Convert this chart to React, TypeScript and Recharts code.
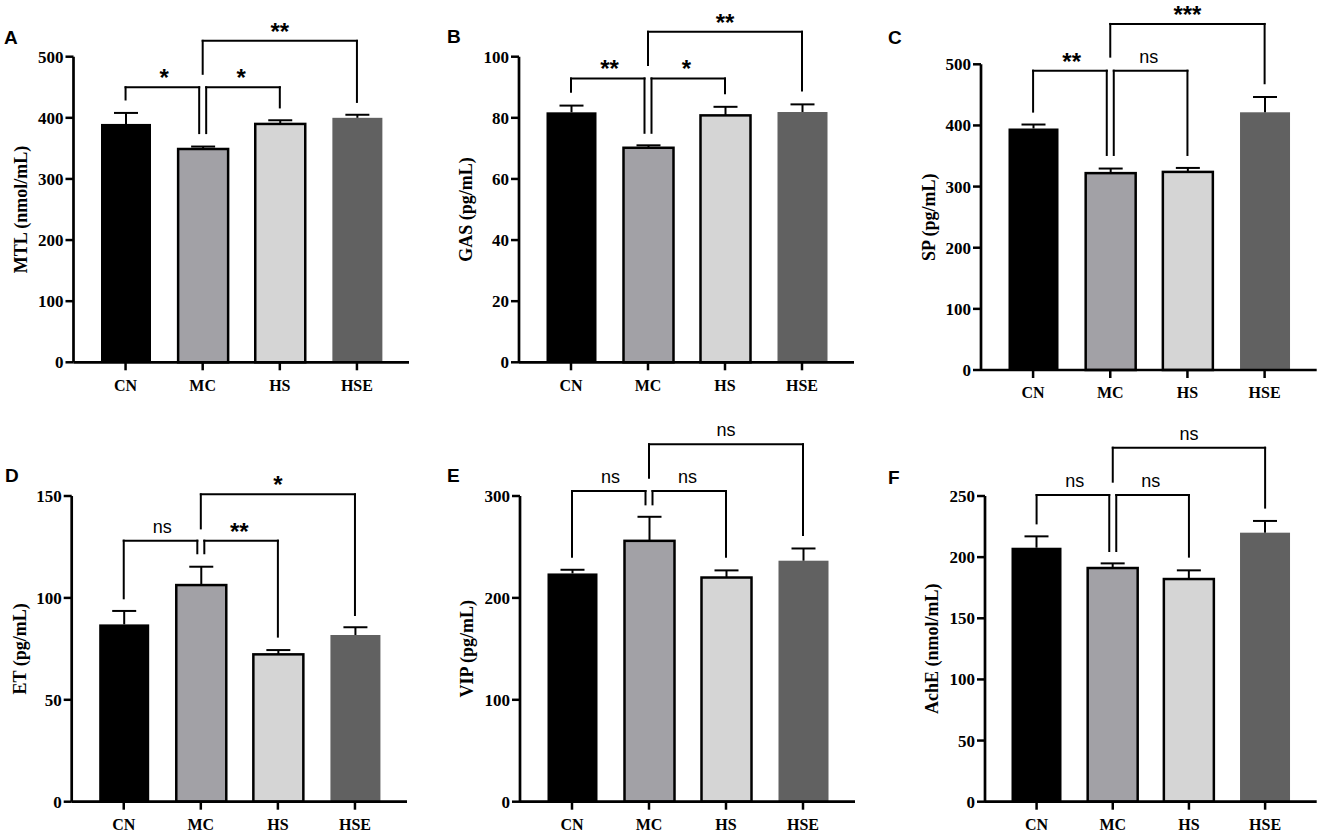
import React from 'react';
import {
  BarChart,
  Bar,
  XAxis,
  YAxis,
  ReferenceLine,
} from 'recharts';

// groups on the x axis (same for every panel)
const GROUPS = ['CN', 'MC', 'HS', 'HSE'];

// means and upper error (SEM)
const MTL_MEAN = [390, 349, 390, 400];
const MTL_SEM = [18, 4, 6, 5];
const GAS_MEAN = [81.8, 70.2, 80.8, 81.9];
const GAS_SEM = [2.2, 0.8, 2.8, 2.5];
const SP_MEAN = [395, 322, 324, 421.5];
const SP_SEM = [6.5, 7.5, 6.5, 25];
const ET_MEAN = [87, 106.3, 72.3, 81.8];
const ET_SEM = [6.6, 9, 2.1, 3.8];
const VIP_MEAN = [224, 256, 220, 236.5];
const VIP_SEM = [3.6, 23.6, 7, 12];
const ACHE_MEAN = [207.7, 191.1, 182.1, 220];
const ACHE_SEM = [9.3, 3.8, 7.1, 9.6];

// y axis ticks
const TICKS_A = [0, 100, 200, 300, 400, 500];
const TICKS_B = [0, 20, 40, 60, 80, 100];
const TICKS_C = [0, 100, 200, 300, 400, 500];
const TICKS_D = [0, 50, 100, 150];
const TICKS_E = [0, 100, 200, 300];
const TICKS_F = [0, 50, 100, 150, 200, 250];

// significance brackets: legs and bar in data units
type Bracket = { from: string; to: string; legFrom: number; top: number; legTo: number; label: string };
const BRACKETS_A: Bracket[] = [
  { from: 'CN', to: 'MC', legFrom: 430, top: 450, legTo: 375, label: '*' },
  { from: 'MC', to: 'HS', legFrom: 375, top: 450, legTo: 417, label: '*' },
  { from: 'MC', to: 'HSE', legFrom: 472, top: 526, legTo: 426, label: '**' },
];
const BRACKETS_B: Bracket[] = [
  { from: 'CN', to: 'MC', legFrom: 88.5, top: 92.9, legTo: 75.1, label: '**' },
  { from: 'MC', to: 'HS', legFrom: 75.1, top: 92.9, legTo: 88, label: '*' },
  { from: 'MC', to: 'HSE', legFrom: 97.3, top: 108.2, legTo: 88.9, label: '**' },
];
const BRACKETS_C: Bracket[] = [
  { from: 'CN', to: 'MC', legFrom: 422.6, top: 489.6, legTo: 351.7, label: '**' },
  { from: 'MC', to: 'HS', legFrom: 351.7, top: 489.6, legTo: 351.7, label: 'ns' },
  { from: 'MC', to: 'HSE', legFrom: 512.5, top: 566, legTo: 469, label: '***' },
];
const BRACKETS_D: Bracket[] = [
  { from: 'CN', to: 'MC', legFrom: 99.8, top: 128.1, legTo: 121.9, label: 'ns' },
  { from: 'MC', to: 'HS', legFrom: 121.9, top: 128.1, legTo: 81, label: '**' },
  { from: 'MC', to: 'HSE', legFrom: 134.1, top: 150.8, legTo: 91.6, label: '*' },
];
const BRACKETS_E: Bracket[] = [
  { from: 'CN', to: 'MC', legFrom: 240.4, top: 304.9, legTo: 291.8, label: 'ns' },
  { from: 'MC', to: 'HS', legFrom: 291.8, top: 304.9, legTo: 240.4, label: 'ns' },
  { from: 'MC', to: 'HSE', legFrom: 318, top: 350.7, legTo: 261.7, label: 'ns' },
];
const BRACKETS_F: Bracket[] = [
  { from: 'CN', to: 'MC', legFrom: 227.6, top: 250.8, legTo: 205, label: 'ns' },
  { from: 'MC', to: 'HS', legFrom: 205, top: 250.8, legTo: 200.4, label: 'ns' },
  { from: 'MC', to: 'HSE', legFrom: 261.7, top: 289.5, legTo: 240.5, label: 'ns' },
];

// styling
const BAR_FILL = ['#000000', '#a2a1a6', '#d5d5d5', '#616161'];
const BAR_STROKE = ['none', '#000000', '#000000', 'none'];
const SERIF = '"Liberation Serif", "Times New Roman", serif';
const SANS = '"Liberation Sans", Arial, sans-serif';
// pixel nudges so the two legs meeting at MC don't overlap
const LEG_NUDGE = [
  [0, -3.5],
  [3.5, 0],
  [0, 0],
];
const CAP_HALF = 12;

interface PanelSpec {
  letter: string;
  yLabel: string;
  mean: number[];
  sem: number[];
  ticks: number[];
  brackets: Bracket[];
  box: { left: number; top: number; width: number; height: number };
  plot: { x: number; top: number; bottom: number; right: number };
  labelX: number;
  letterPos: { left: number; top: number };
}

const PANELS: PanelSpec[] = [
  {
    letter: 'A', yLabel: 'MTL (nmol/mL)', mean: MTL_MEAN, sem: MTL_SEM, ticks: TICKS_A, brackets: BRACKETS_A,
    box: { left: 0, top: 0, width: 440, height: 415 },
    plot: { x: 73.5, top: 56.7, bottom: 362.3, right: 409 },
    labelX: 20.5, letterPos: { left: 4, top: 30 },
  },
  {
    letter: 'B', yLabel: 'GAS (pg/mL)', mean: GAS_MEAN, sem: GAS_SEM, ticks: TICKS_B, brackets: BRACKETS_B,
    box: { left: 440, top: 0, width: 440, height: 415 },
    plot: { x: 519, top: 56.7, bottom: 362.3, right: 854 },
    labelX: 26, letterPos: { left: 447, top: 29 },
  },
  {
    letter: 'C', yLabel: 'SP (pg/mL)', mean: SP_MEAN, sem: SP_SEM, ticks: TICKS_C, brackets: BRACKETS_C,
    box: { left: 880, top: 0, width: 445, height: 415 },
    plot: { x: 981, top: 64.3, bottom: 370, right: 1316.7 },
    labelX: 49, letterPos: { left: 888, top: 30 },
  },
  {
    letter: 'D', yLabel: 'ET (pg/mL)', mean: ET_MEAN, sem: ET_SEM, ticks: TICKS_D, brackets: BRACKETS_D,
    box: { left: 0, top: 415, width: 440, height: 419 },
    plot: { x: 71.7, top: 496, bottom: 801.7, right: 407 },
    labelX: 19.5, letterPos: { left: 5, top: 468 },
  },
  {
    letter: 'E', yLabel: 'VIP (pg/mL)', mean: VIP_MEAN, sem: VIP_SEM, ticks: TICKS_E, brackets: BRACKETS_E,
    box: { left: 440, top: 415, width: 440, height: 419 },
    plot: { x: 520, top: 496, bottom: 801.7, right: 855 },
    labelX: 27, letterPos: { left: 447, top: 468 },
  },
  {
    letter: 'F', yLabel: 'AchE (nmol/mL)', mean: ACHE_MEAN, sem: ACHE_SEM, ticks: TICKS_F, brackets: BRACKETS_F,
    box: { left: 880, top: 415, width: 445, height: 419 },
    plot: { x: 985, top: 496, bottom: 801.7, right: 1316.7 },
    labelX: 52, letterPos: { left: 888, top: 470 },
  },
];

const X_AXIS_HEIGHT = 30;

function bracketLines(b: Bracket, i: number, key: string) {
  const [nl, nr] = LEG_NUDGE[i];
  const seg = (dx1: number, dx2: number) => (p: any) => (
    <line
      x1={p.x1 + dx1}
      y1={p.y1}
      x2={p.x2 + dx2}
      y2={p.y2}
      stroke="#000"
      strokeWidth={2}
      strokeLinecap="square"
    />
  );
  const isNs = b.label === 'ns';
  return [
    <ReferenceLine
      key={key + 'l'}
      segment={[{ x: b.from, y: b.legFrom }, { x: b.from, y: b.top }]}
      ifOverflow="visible"
      shape={seg(nl, nl)}
    />,
    <ReferenceLine
      key={key + 't'}
      segment={[{ x: b.from, y: b.top }, { x: b.to, y: b.top }]}
      ifOverflow="visible"
      shape={seg(nl, nr)}
      label={{
        value: b.label,
        position: 'top',
        offset: isNs ? 8 : 1,
        fill: '#000',
        fontSize: isNs ? 18 : 24,
        fontWeight: isNs ? 'normal' : 'bold',
        fontFamily: SANS,
      }}
    />,
    <ReferenceLine
      key={key + 'r'}
      segment={[{ x: b.to, y: b.top }, { x: b.to, y: b.legTo }]}
      ifOverflow="visible"
      shape={seg(nr, nr)}
    />,
  ];
}

// bar plus its upper error whisker; whisker length uses the bar's own px/unit
function BarWithError(props: any) {
  const { x, y, width, height, index, payload } = props;
  const i = index ?? 0;
  const pxPerUnit = payload.mean ? height / payload.mean : 0;
  const cx = x + width / 2;
  const yTop = y - payload.sem * pxPerUnit;
  const hasStroke = BAR_STROKE[i] !== 'none';
  return (
    <g>
      <rect
        x={x}
        y={y}
        width={width}
        height={height}
        fill={BAR_FILL[i]}
        stroke={hasStroke ? BAR_STROKE[i] : 'none'}
        strokeWidth={hasStroke ? 2.5 : 0}
      />
      <line x1={cx} y1={y} x2={cx} y2={yTop} stroke="#000" strokeWidth={2} />
      <line x1={cx - CAP_HALF} y1={yTop} x2={cx + CAP_HALF} y2={yTop} stroke="#000" strokeWidth={2} />
    </g>
  );
}

function Panel({ spec }: { spec: PanelSpec }) {
  const { box, plot } = spec;
  const rows = GROUPS.map((g, i) => ({
    group: g,
    mean: spec.mean[i],
    sem: spec.sem[i],
  }));
  const yMax = spec.ticks[spec.ticks.length - 1];
  const margin = {
    top: plot.top - box.top,
    right: box.left + box.width - plot.right,
    bottom: box.top + box.height - plot.bottom - X_AXIS_HEIGHT,
    left: 0,
  };
  const xTick = { fill: '#000', fontSize: 16, fontWeight: 'bold', fontFamily: SERIF };
  const yTick = { fill: '#000', fontSize: 17, fontWeight: 'bold', fontFamily: SERIF };

  return (
    <div style={{ position: 'absolute', left: box.left, top: box.top }}>
      <BarChart width={box.width} height={box.height} data={rows} margin={margin}>
        <XAxis
          dataKey="group"
          interval={0}
          height={X_AXIS_HEIGHT}
          tickSize={8}
          tickMargin={9}
          padding={{ left: 13.5, right: 13.5 }}
          axisLine={{ stroke: '#000', strokeWidth: 2.7 }}
          tickLine={{ stroke: '#000', strokeWidth: 2.5 }}
          tick={xTick}
        />
        <YAxis
          type="number"
          domain={[0, yMax]}
          ticks={spec.ticks}
          interval={0}
          width={plot.x - box.left}
          tickSize={8}
          tickMargin={2}
          axisLine={{ stroke: '#000', strokeWidth: 2.7 }}
          tickLine={{ stroke: '#000', strokeWidth: 2.5 }}
          tick={yTick}
          label={{
            value: spec.yLabel,
            angle: -90,
            position: 'insideLeft',
            offset: spec.labelX,
            fill: '#000',
            fontSize: 18,
            fontWeight: 'bold',
            fontFamily: SERIF,
            style: { textAnchor: 'middle' },
          }}
        />
        <Bar
          dataKey="mean"
          barSize={50}
          isAnimationActive={false}
          shape={(p: any) => <BarWithError {...p} />}
        />
        {spec.brackets.flatMap((b, i) => bracketLines(b, i, spec.letter + i))}
      </BarChart>
    </div>
  );
}

export default function App() {
  return (
    <div
      style={{
        position: 'absolute',
        left: 0,
        top: 0,
        width: 1325,
        height: 834,
        background: '#fff',
        overflow: 'hidden',
      }}
    >
      {PANELS.map((p) => (
        <Panel key={p.letter} spec={p} />
      ))}
      {PANELS.map((p) => (
        <div
          key={'letter' + p.letter}
          style={{
            position: 'absolute',
            left: p.letterPos.left,
            top: p.letterPos.top - 2.5,
            fontFamily: SANS,
            fontWeight: 'bold',
            fontSize: 19,
            lineHeight: '19px',
            color: '#000',
          }}
        >
          {p.letter}
        </div>
      ))}
    </div>
  );
}
